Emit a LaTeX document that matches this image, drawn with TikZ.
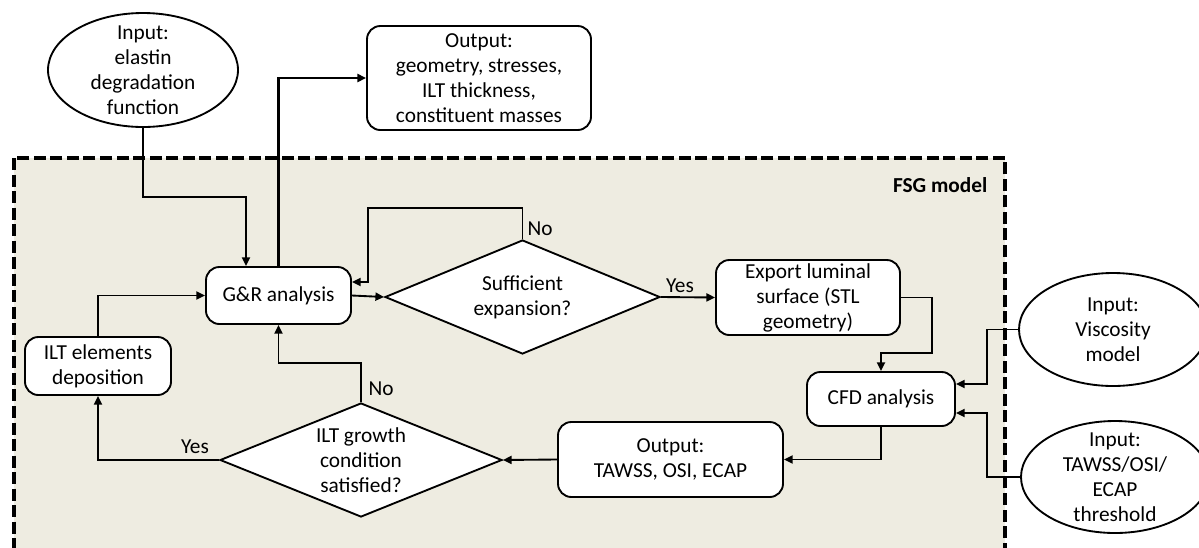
\documentclass[tikz,border=0pt]{standalone}
\usepackage{fontspec}
\setmainfont{Carlito}
\usetikzlibrary{arrows.meta,shapes.geometric}
\definecolor{bgtan}{HTML}{EEECE1}
\tikzset{
  every node/.style={font=\fontsize{16}{18.75}\selectfont, align=center},
  rbox/.style={draw, rounded corners=10pt, fill=white, line width=1.4pt, inner sep=0pt},
  oval/.style={draw, ellipse, fill=white, line width=1.4pt, inner sep=0pt},
  dia/.style={draw, diamond, fill=white, line width=1.4pt, inner sep=0pt},
  arr/.style={line width=1.4pt, -{Triangle[length=6.5pt,width=6pt]}},
  lbl/.style={inner sep=1pt},
}
\begin{document}
\begin{tikzpicture}[x=0.75pt,y=-0.75pt]
\useasboundingbox (0,0) rectangle (1199,547);
\begin{scope}
\clip (0,0) rectangle (1199,547);
% FSG model frame
\draw[fill=bgtan, line width=3pt, dash pattern=on 9pt off 3.4pt] (14,158) rectangle (1005,580);
\node[font=\fontsize{16}{18.75}\selectfont\bfseries, anchor=east] (fsg) at (992,185) {FSG model};

% nodes
\node[oval, minimum width=142.5pt, minimum height=85.5pt, label={center:Input:\\elastin\\degradation\\function}] (in1) at (143,70) {};
\node[rbox, minimum width=168pt, minimum height=78pt] (out1) at (479,78) {Output:\\geometry, stresses,\\ILT thickness,\\constituent masses};
\node[rbox, minimum width=108.75pt, minimum height=42.75pt] (gr) at (278.5,295.5) {G\&R analysis};
\node[dia, minimum width=206.25pt, minimum height=85.5pt, label={center:Sufficient\\expansion?}] (d1) at (522.5,297) {};
\node[rbox, minimum width=138pt, minimum height=56.25pt] (exp) at (808,297.5) {Export luminal\\surface (STL\\geometry)};
\node[rbox, minimum width=111pt, minimum height=40.5pt] (cfd) at (881,399) {CFD analysis};
\node[rbox, minimum width=168.75pt, minimum height=56.25pt] (out2) at (670.5,459.5) {Output:\\TAWSS, OSI, ECAP};
\node[dia, minimum width=211.5pt, minimum height=85.5pt, label={center:ILT growth\\condition\\satisfied?}] (d2) at (361,460) {};
\node[rbox, minimum width=109.5pt, minimum height=43.5pt] (ilt) at (98,366) {ILT elements\\deposition};
\node[oval, minimum width=141pt, minimum height=84.75pt, label={center:Input:\\Viscosity\\model}] (visc) at (1113,329.5) {};
\node[oval, minimum width=141pt, minimum height=84pt, label={center:Input:\\TAWSS/OSI/\\ECAP\\threshold}] (thr) at (1115,477) {};

% connectors
\coordinate (c1) at (246,197);
\draw[arr] (in1.south) |- (c1) -- (c1 |- gr.north);
\draw[arr, line width=2.1pt] (gr.north) |- (out1.west);
\draw[arr] (gr.east) -- (d1.west);
\coordinate (c2) at (368,208);
\draw[arr] (d1.north) |- (c2) -- (368,282) -- (gr.east |- 0,282);
\node[lbl, anchor=west] (no1) at (526,229) {No};
\draw[arr] (d1.east) -- (exp.west);
\node[lbl] (yes1) at (680,286) {Yes};
\coordinate (c3) at (932,297.5);
\draw[arr] (exp.east) -- (c3) |- (cfd.north |- 0,353) -- (cfd.north);
\coordinate (c4) at (987,384);
\draw[arr] (visc.west) -| (c4) -- (cfd.east |- c4);
\coordinate (c5) at (987,413);
\draw[arr] (thr.west) -| (c5) -- (cfd.east |- c5);
\draw[arr] (cfd.south) |- (out2.east);
\draw[arr] (out2.west) -- (d2.east);
\coordinate (c6) at (361,363);
\draw[arr] (d2.north) -- (c6) -| (gr.south);
\node[lbl, anchor=west] (no2) at (367,389) {No};
\draw[arr] (d2.west) -| (ilt.south);
\node[lbl] (yes2) at (195,447) {Yes};
\draw[arr] (ilt.north) |- (gr.west);
\end{scope}
\end{tikzpicture}
\end{document}
